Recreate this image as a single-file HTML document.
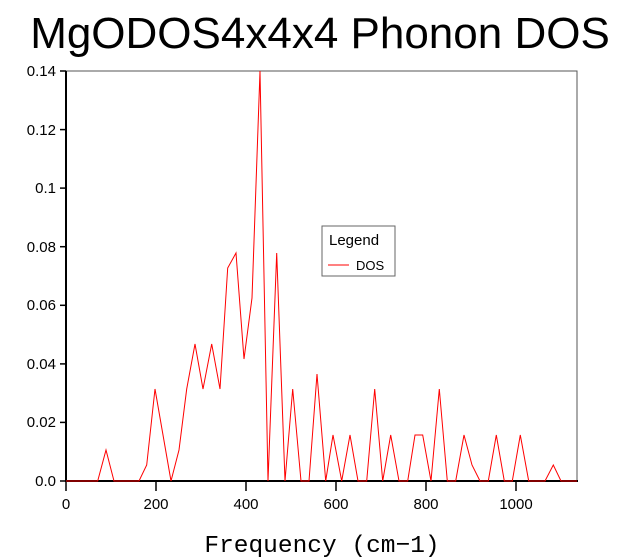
<!DOCTYPE html>
<html><head><meta charset="utf-8"><style>body{margin:0;background:#fff}svg{display:block}</style></head><body>
<svg width="621" height="560" xmlns="http://www.w3.org/2000/svg" font-family="Liberation Sans, sans-serif">
<text x="320" y="48" font-size="44" text-anchor="middle">MgODOS4x4x4 Phonon DOS</text>
<rect x="66" y="71" width="511" height="410" fill="none" stroke="#555" stroke-width="1"/>
<line x1="66" y1="71" x2="66" y2="482" stroke="#000" stroke-width="2"/>
<line x1="65" y1="481" x2="578" y2="481" stroke="#000" stroke-width="2"/>
<g stroke="#000" stroke-width="1.5">
<line x1="60" y1="71" x2="66" y2="71"/><line x1="60" y1="129.6" x2="66" y2="129.6"/><line x1="60" y1="188.1" x2="66" y2="188.1"/><line x1="60" y1="246.7" x2="66" y2="246.7"/><line x1="60" y1="305.3" x2="66" y2="305.3"/><line x1="60" y1="363.9" x2="66" y2="363.9"/><line x1="60" y1="422.4" x2="66" y2="422.4"/><line x1="60" y1="481" x2="66" y2="481"/>
<line x1="66" y1="481" x2="66" y2="491"/><line x1="156" y1="481" x2="156" y2="491"/><line x1="246" y1="481" x2="246" y2="491"/><line x1="336" y1="481" x2="336" y2="491"/><line x1="426" y1="481" x2="426" y2="491"/><line x1="516" y1="481" x2="516" y2="491"/>
</g>
<g font-size="15" text-anchor="end">
<text x="56" y="76">0.14</text><text x="56" y="135">0.12</text><text x="56" y="193">0.1</text><text x="56" y="252">0.08</text><text x="56" y="310">0.06</text><text x="56" y="369">0.04</text><text x="56" y="427">0.02</text><text x="56" y="486">0.0</text>
</g>
<g font-size="15" text-anchor="middle">
<text x="66" y="509">0</text><text x="156" y="509">200</text><text x="246" y="509">400</text><text x="336" y="509">600</text><text x="426" y="509">800</text><text x="516" y="509">1000</text>
</g>
<text x="322" y="552" font-size="24.5" text-anchor="middle" font-family="Liberation Mono, monospace">Frequency (cm−1)</text>
<polyline fill="none" stroke="#f00" stroke-width="1" points="66,481 97.7,481 106,450 114,481 139,481 146.7,465 155,389 163,435 171,481 179,450 186.7,389 195,344 203,389 211.7,344 220,389 227.7,268 236,253 244,359 252,298 260,71 268,481 276.7,253 285,481 292.7,389 301,481 309,481 317,374 325.7,481 333,435 341.7,481 350,435 358,481 366.7,481 374.7,389 382.7,481 390.7,435 399,481 407.7,481 415,435 422.7,435 431,481 439.3,389 447.3,481 455.7,481 464,435 472,465 480,481 488.3,481 496.3,435 504.3,481 512.3,481 520.3,435 528.7,481 545,481 553.3,465 561,481 577,481"/>
<rect x="322" y="226" width="73" height="50" fill="#fff" stroke="#666" stroke-width="1"/>
<text x="329" y="245" font-size="15">Legend</text>
<line x1="328" y1="265" x2="349" y2="265" stroke="#f00" stroke-width="1"/>
<text x="356" y="270" font-size="13">DOS</text>
</svg>
</body></html>
